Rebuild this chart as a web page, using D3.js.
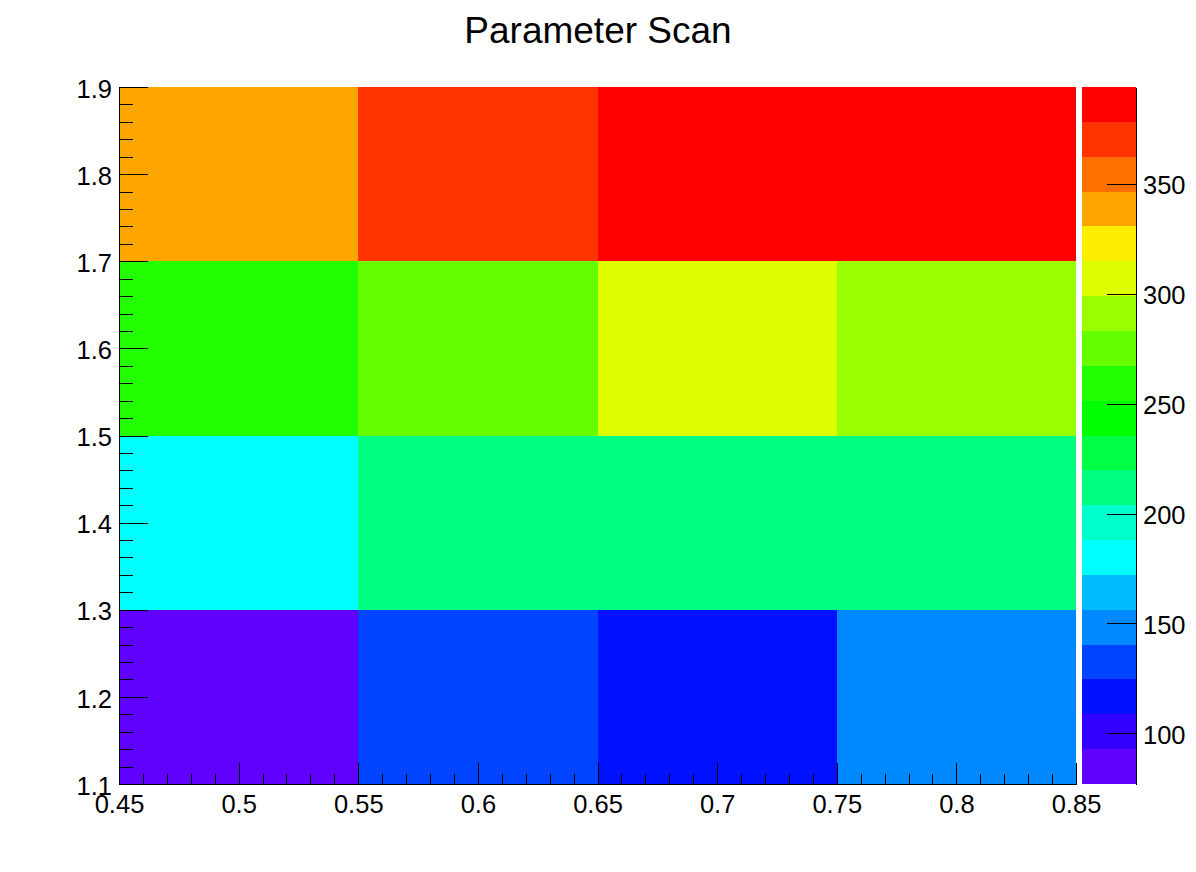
<!DOCTYPE html>
<html>
<head>
<meta charset="utf-8">
<script src="https://cdn.jsdelivr.net/npm/d3@7"></script>
<style>
  body { margin: 0; background: #fff; }
  text { font-family: "Liberation Sans", Arial, sans-serif; fill: #000; }
  .axis path, .axis line { stroke: #000; shape-rendering: crispEdges; }
</style>
</head>
<body>
<svg id="svg"></svg>
<script>
// bin edges
var xEdges = [0.45, 0.55, 0.65, 0.75, 0.85];
var yEdges = [1.1, 1.3, 1.5, 1.7, 1.9];

// cell contents, one row per y bin (bottom to top)
var row1 = [77, 132, 117, 148];
var row2 = [180, 212, 213, 211];
var row3 = [259, 275, 307, 291];
var row4 = [338, 370, 394, 386];
var rows = [row1, row2, row3, row4];

// 20 contour colours, low to high
var paletteColors = ["#6000ff", "#3300ff", "#0011ff", "#0044ff", "#0088ff",
  "#00bbff", "#00ffff", "#00ffcc", "#00ff80", "#00ff44",
  "#00ff00", "#22ff00", "#66ff00", "#99ff00", "#ddff00",
  "#ffee00", "#ffa500", "#ff7000", "#ff3300", "#ff0000"];

var xTicks = [0.45, 0.5, 0.55, 0.6, 0.65, 0.7, 0.75, 0.8, 0.85];
var yTicks = [1.1, 1.2, 1.3, 1.4, 1.5, 1.6, 1.7, 1.8, 1.9];
var zTicks = [100, 150, 200, 250, 300, 350];

var W = 1196, H = 872;
var L = 119, R = 1076, T = 87, B = 784;
var palL = 1082, palR = 1136;

svg = d3.select("#svg").attr("width", W).attr("height", H);

var x = d3.scaleLinear().domain([0.45, 0.85]).range([L, R]);
var y = d3.scaleLinear().domain([1.1, 1.9]).range([B, T]);

var allVals = d3.merge(rows);
var zmin = d3.min(allVals), zmax = d3.max(allVals);
var color = d3.scaleQuantize().domain([zmin, zmax]).range(paletteColors);
var z = d3.scaleLinear().domain([zmin, zmax]).range([B, T]);

// cells
var cells = [];
rows.forEach(function(r, j) {
  r.forEach(function(v, i) {
    cells.push({x0: xEdges[i], x1: xEdges[i+1], y0: yEdges[j], y1: yEdges[j+1], v: v});
  });
});

svg.append("g").selectAll("rect").data(cells).enter()
  .append("rect")
    .attr("x", d => x(d.x0))
    .attr("y", d => y(d.y1))
    .attr("width", d => x(d.x1) - x(d.x0))
    .attr("height", d => y(d.y0) - y(d.y1))
    .attr("fill", d => color(d.v))
    .attr("shape-rendering", "crispEdges");

// palette
var bandW = (zmax - zmin) / paletteColors.length;
svg.append("g").selectAll("rect").data(paletteColors).enter()
  .append("rect")
    .attr("x", palL)
    .attr("y", (d, i) => z(zmin + (i + 1) * bandW))
    .attr("width", palR - palL)
    .attr("height", (d, i) => z(zmin + i * bandW) - z(zmin + (i + 1) * bandW))
    .attr("fill", d => d)
    .attr("shape-rendering", "crispEdges");

// x axis
var fmt = d3.format("");
var xMinor = svg.append("g").attr("class", "axis").attr("transform", "translate(0," + B + ")")
  .call(d3.axisBottom(x).tickValues(d3.range(45, 86).map(v => v / 100)).tickSize(-10).tickSizeOuter(0).tickFormat(""));
xMinor.select(".domain").remove();
var xAxis = svg.append("g").attr("class", "axis").attr("transform", "translate(0," + B + ")")
  .call(d3.axisBottom(x).tickValues(xTicks).tickSize(-21).tickSizeOuter(0).tickPadding(11).tickFormat(d => fmt(+d.toFixed(2))));
xAxis.selectAll("text").style("font-size", "25.5px");

// y axis
var yMinor = svg.append("g").attr("class", "axis").attr("transform", "translate(" + L + ",0)")
  .call(d3.axisLeft(y).tickValues(d3.range(55, 96).map(v => v / 50)).tickSize(-14).tickSizeOuter(0).tickFormat(""));
yMinor.select(".domain").remove();
var yAxis = svg.append("g").attr("class", "axis").attr("transform", "translate(" + L + ",0)")
  .call(d3.axisLeft(y).tickValues(yTicks).tickSize(-29).tickSizeOuter(0).tickPadding(7).tickFormat(d => fmt(+d.toFixed(1))));
yAxis.selectAll("text").style("font-size", "25.5px").attr("dy", "0.4em");

// palette axis
var zAxis = svg.append("g").attr("class", "axis").attr("transform", "translate(" + palR + ",0)")
  .call(d3.axisRight(z).tickValues(zTicks).tickSize(-29).tickSizeOuter(0).tickPadding(7));
zAxis.selectAll("text").style("font-size", "25.5px").attr("dy", "0.4em");

// title
svg.append("text")
  .attr("x", 598)
  .attr("y", 43)
  .attr("text-anchor", "middle")
  .style("font-size", "37px")
  .text("Parameter Scan");
</script>
</body>
</html>
